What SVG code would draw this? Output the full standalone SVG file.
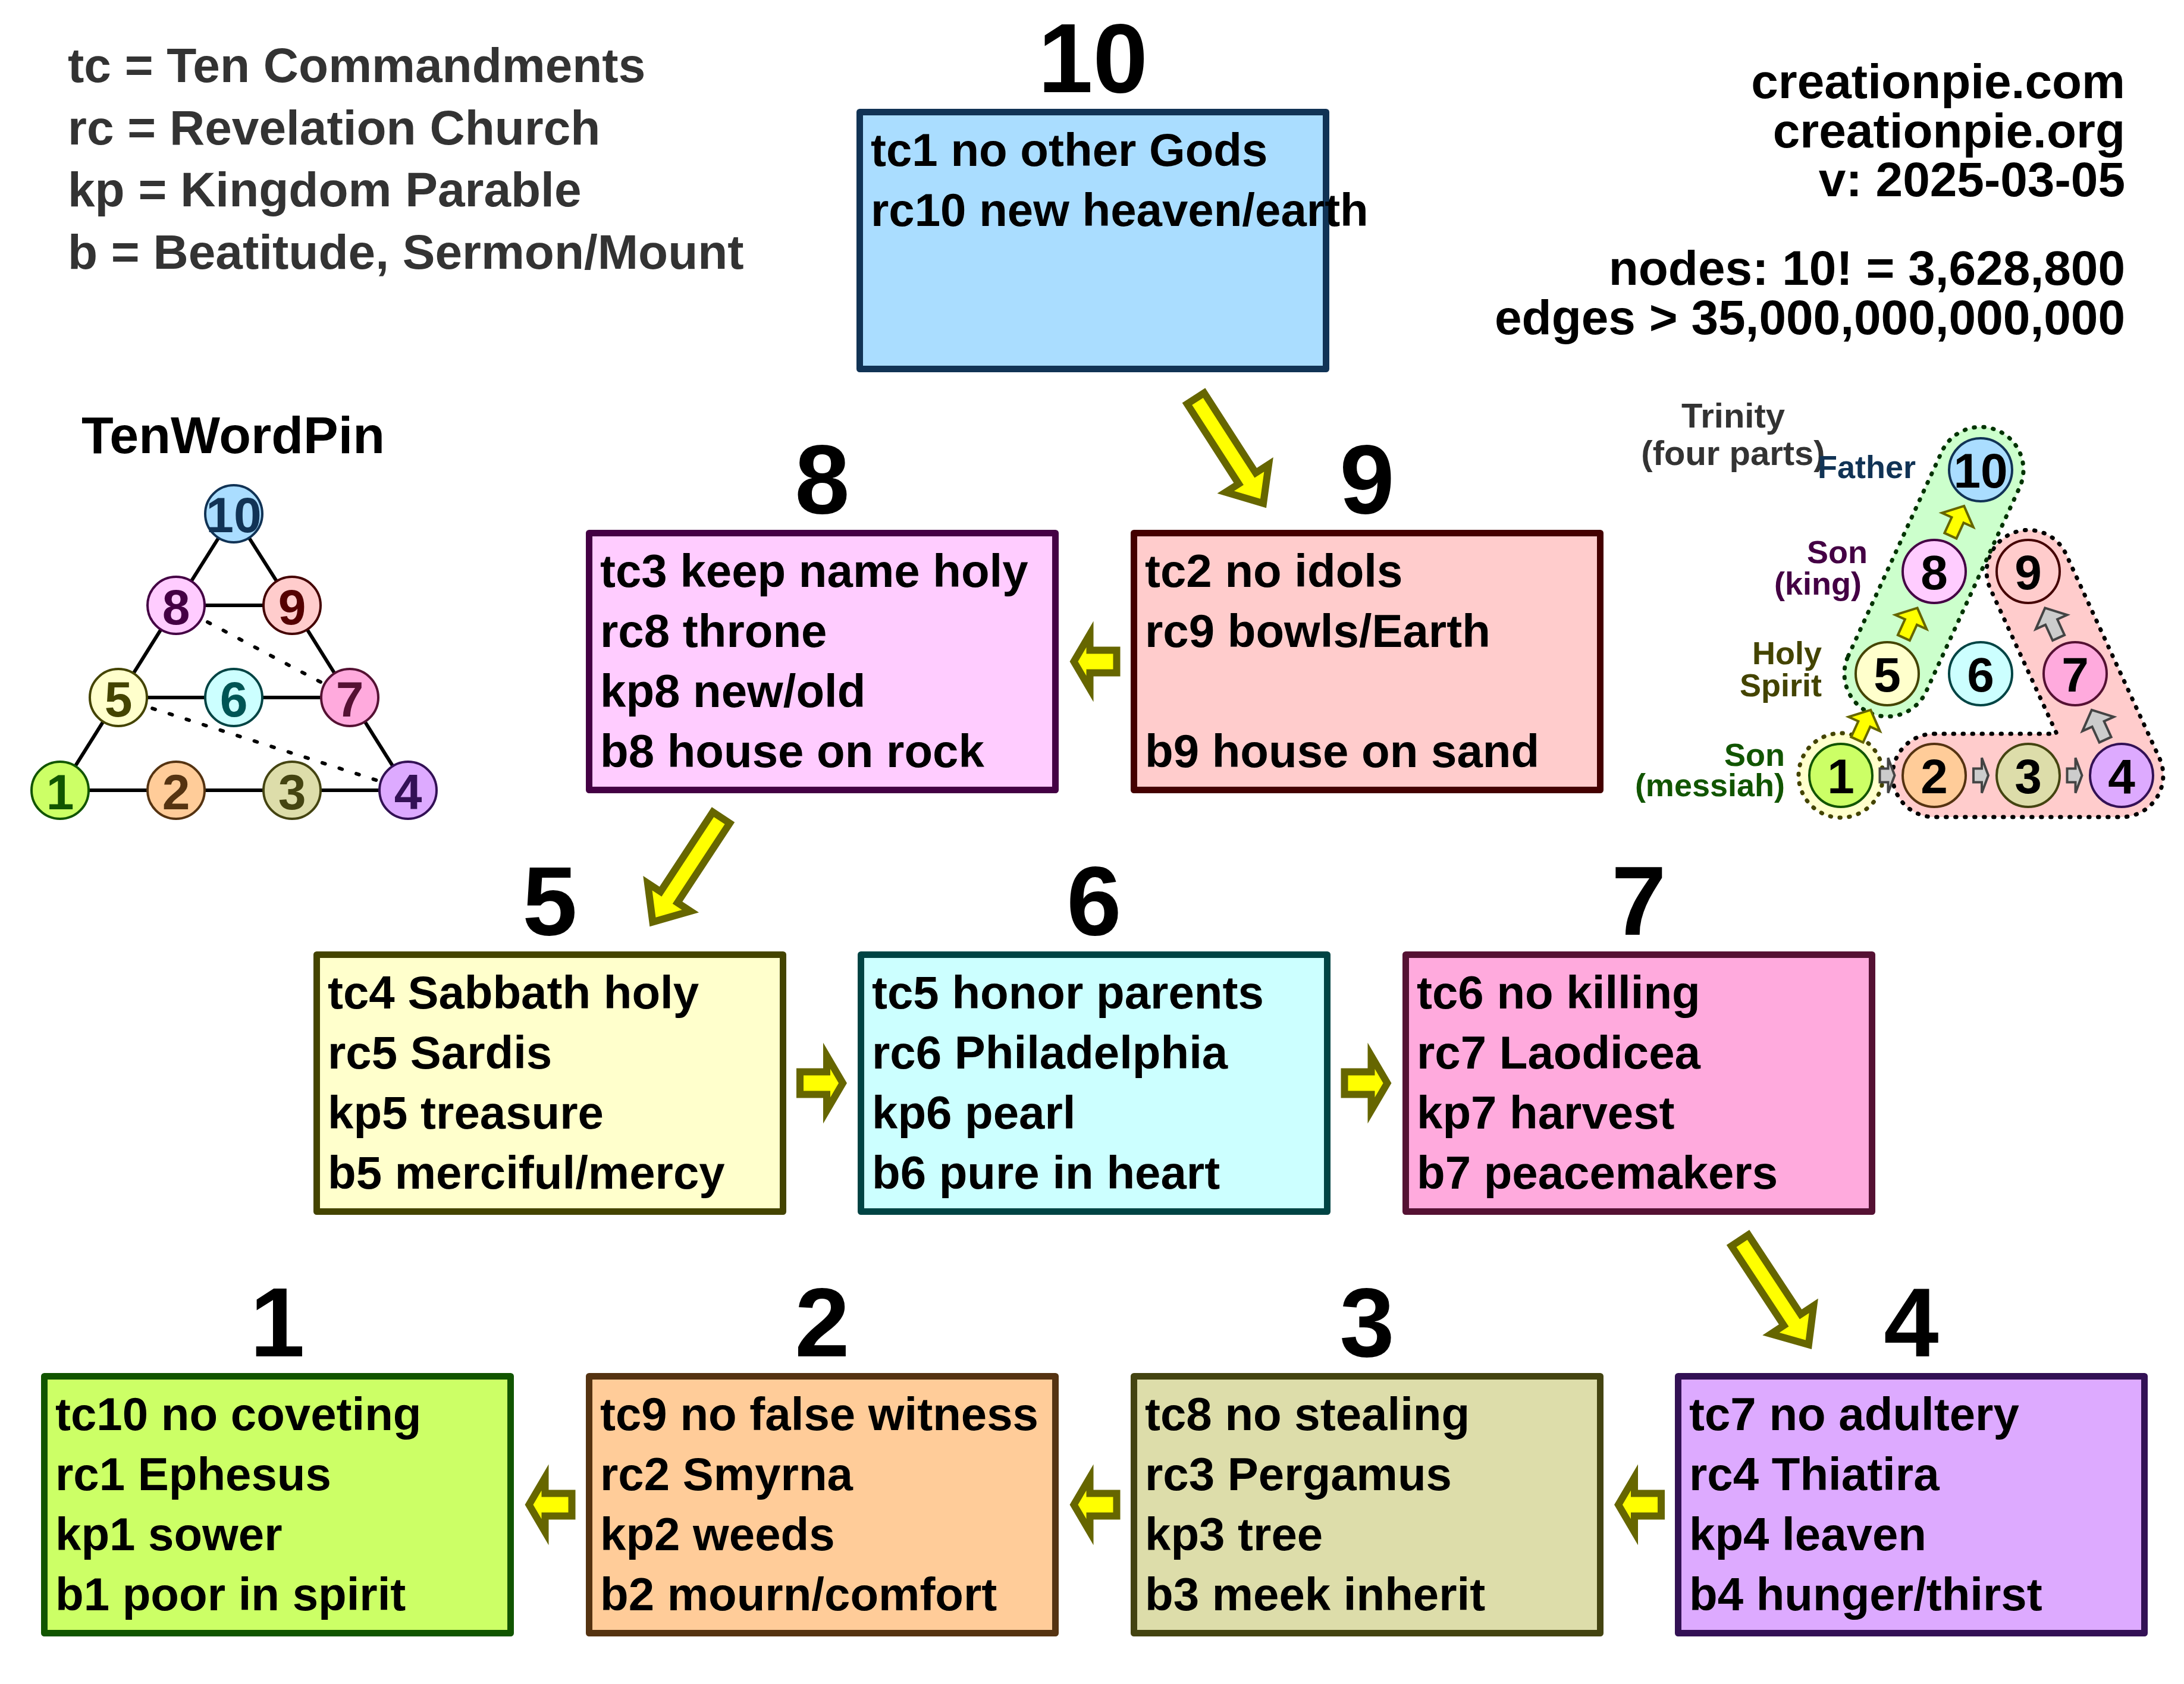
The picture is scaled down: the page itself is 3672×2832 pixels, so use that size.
<svg xmlns="http://www.w3.org/2000/svg" xmlns:xlink="http://www.w3.org/1999/xlink" width="3672" height="2832" viewBox="0 0 3672 2832">
<style>
.t{font-family:"Liberation Sans",Arial,Helvetica,sans-serif;font-weight:bold}
.num{font-size:166px;text-anchor:middle;fill:#000}
.body{font-size:78px;fill:#000}
.leg{font-size:82px;fill:#333333}
.info{font-size:82px;fill:#000;text-anchor:end}
.box{stroke-width:11;stroke-linejoin:round}
.ya{fill:#ffff00;stroke:#666600;stroke-width:12;stroke-linejoin:miter}
.ys{fill:#ffff00;stroke:#666600;stroke-width:4}
.gs{fill:#cccccc;stroke:#444444;stroke-width:4}
.edge{stroke:#000;stroke-width:6;fill:none}
.dash{stroke:#000;stroke-width:6;fill:none;stroke-dasharray:5 25;stroke-linecap:round}
.twp{stroke-width:4}
.twl{font-size:84px;text-anchor:middle}
.tri{stroke-width:4}
.trl{font-size:82px;text-anchor:middle;fill:#000}
.dot{stroke-width:7;stroke-dasharray:1.5 14.5;stroke-linecap:round}
.lab{font-size:54px;text-anchor:end}
</style>
<defs>
<path id="ah" d="M-37,-19 H8 V-46 L35,0 L8,46 V19 H-37 Z"/>
<path id="ad" d="M6,-17 H166 V-43 L216,0 L166,43 V17 H6 Z"/>
<path id="as" d="M-28,-11 H1 V-29 L27,0 L1,29 V11 H-28 Z"/>
<path id="ag" d="M-13,-11.5 H1 V-29.5 L12,0 L1,29.5 V11.5 H-13 Z"/>
</defs>
<rect width="3672" height="2832" fill="#ffffff"/>

<g id="legend">
<text class="t leg" x="114" y="138">tc = Ten Commandments</text>
<text class="t leg" x="114" y="243">rc = Revelation Church</text>
<text class="t leg" x="114" y="347">kp = Kingdom Parable</text>
<text class="t leg" x="114" y="452">b = Beatitude, Sermon/Mount</text>
</g>
<g id="info">
<text class="t info" x="3573" y="165">creationpie.com</text>
<text class="t info" x="3573" y="248">creationpie.org</text>
<text class="t info" x="3573" y="330">v: 2025-03-05</text>
<text class="t info" x="3573" y="479">nodes: 10! = 3,628,800</text>
<text class="t info" x="3573" y="562">edges &gt; 35,000,000,000,000</text>
</g>

<!-- main boxes -->
<g id="node-10">
<text class="t num" x="1837.5" y="155">10</text>
<rect class="box" x="1445.5" y="188.5" width="784" height="432" fill="#aaddff" stroke="#113355"/>
<text class="t body" x="1464" y="279">tc1 no other Gods</text>
<text class="t body" x="1464" y="380">rc10 new heaven/earth</text>
</g>
<g id="node-8">
<text class="t num" x="1382.5" y="863">8</text>
<rect class="box" x="990.5" y="896.5" width="784" height="432" fill="#ffccff" stroke="#440044"/>
<text class="t body" x="1009" y="987">tc3 keep name holy</text>
<text class="t body" x="1009" y="1088">rc8 throne</text>
<text class="t body" x="1009" y="1189">kp8 new/old</text>
<text class="t body" x="1009" y="1290">b8 house on rock</text>
</g>
<g id="node-9">
<text class="t num" x="2298.5" y="863">9</text>
<rect class="box" x="1906.5" y="896.5" width="784" height="432" fill="#ffcccc" stroke="#440000"/>
<text class="t body" x="1925" y="987">tc2 no idols</text>
<text class="t body" x="1925" y="1088">rc9 bowls/Earth</text>
<text class="t body" x="1925" y="1290">b9 house on sand</text>
</g>
<g id="node-5">
<text class="t num" x="924.5" y="1572">5</text>
<rect class="box" x="532.5" y="1605.5" width="784" height="432" fill="#ffffcc" stroke="#444400"/>
<text class="t body" x="551" y="1696">tc4 Sabbath holy</text>
<text class="t body" x="551" y="1797">rc5 Sardis</text>
<text class="t body" x="551" y="1898">kp5 treasure</text>
<text class="t body" x="551" y="1999">b5 merciful/mercy</text>
</g>
<g id="node-6">
<text class="t num" x="1839.5" y="1572">6</text>
<rect class="box" x="1447.5" y="1605.5" width="784" height="432" fill="#ccffff" stroke="#004444"/>
<text class="t body" x="1466" y="1696">tc5 honor parents</text>
<text class="t body" x="1466" y="1797">rc6 Philadelphia</text>
<text class="t body" x="1466" y="1898">kp6 pearl</text>
<text class="t body" x="1466" y="1999">b6 pure in heart</text>
</g>
<g id="node-7">
<text class="t num" x="2755.5" y="1572">7</text>
<rect class="box" x="2363.5" y="1605.5" width="784" height="432" fill="#ffaadd" stroke="#551133"/>
<text class="t body" x="2382" y="1696">tc6 no killing</text>
<text class="t body" x="2382" y="1797">rc7 Laodicea</text>
<text class="t body" x="2382" y="1898">kp7 harvest</text>
<text class="t body" x="2382" y="1999">b7 peacemakers</text>
</g>
<g id="node-1">
<text class="t num" x="466.5" y="2281">1</text>
<rect class="box" x="74.5" y="2314.5" width="784" height="432" fill="#ccff66" stroke="#115500"/>
<text class="t body" x="93" y="2405">tc10 no coveting</text>
<text class="t body" x="93" y="2506">rc1 Ephesus</text>
<text class="t body" x="93" y="2607">kp1 sower</text>
<text class="t body" x="93" y="2708">b1 poor in spirit</text>
</g>
<g id="node-2">
<text class="t num" x="1382.5" y="2281">2</text>
<rect class="box" x="990.5" y="2314.5" width="784" height="432" fill="#ffcc99" stroke="#553311"/>
<text class="t body" x="1009" y="2405">tc9 no false witness</text>
<text class="t body" x="1009" y="2506">rc2 Smyrna</text>
<text class="t body" x="1009" y="2607">kp2 weeds</text>
<text class="t body" x="1009" y="2708">b2 mourn/comfort</text>
</g>
<g id="node-3">
<text class="t num" x="2298.5" y="2281">3</text>
<rect class="box" x="1906.5" y="2314.5" width="784" height="432" fill="#ddddaa" stroke="#444411"/>
<text class="t body" x="1925" y="2405">tc8 no stealing</text>
<text class="t body" x="1925" y="2506">rc3 Pergamus</text>
<text class="t body" x="1925" y="2607">kp3 tree</text>
<text class="t body" x="1925" y="2708">b3 meek inherit</text>
</g>
<g id="node-4">
<text class="t num" x="3213.5" y="2281">4</text>
<rect class="box" x="2821.5" y="2314.5" width="784" height="432" fill="#ddaaff" stroke="#331155"/>
<text class="t body" x="2840" y="2405">tc7 no adultery</text>
<text class="t body" x="2840" y="2506">rc4 Thiatira</text>
<text class="t body" x="2840" y="2607">kp4 leaven</text>
<text class="t body" x="2840" y="2708">b4 hunger/thirst</text>
</g>

<g id="connectors">
<use xlink:href="#ad" class="ya" transform="translate(2007,665) rotate(57.2)"/>
<use xlink:href="#ah" class="ya" transform="translate(1840.5,1112.5) rotate(180)"/>
<use xlink:href="#ad" class="ya" transform="translate(1216,1370) rotate(123.3)"/>
<use xlink:href="#ah" class="ya" transform="translate(1382,1821.5)"/>
<use xlink:href="#ah" class="ya" transform="translate(2297.5,1821.5)"/>
<use xlink:href="#ad" class="ya" transform="translate(2922,2081) rotate(56.6)"/>
<use xlink:href="#ah" class="ya" transform="translate(2756,2530.5) rotate(180)"/>
<use xlink:href="#ah" class="ya" transform="translate(1840.5,2530.5) rotate(180)"/>
<use xlink:href="#ah" class="ya" transform="translate(924.5,2530.5) rotate(180)"/>
</g>

<!-- TenWordPin -->
<g id="tenwordpin">
<text class="t" x="392" y="762" font-size="88" text-anchor="middle" fill="#000">TenWordPin</text>
<g id="twp-edges">
<line class="edge" x1="393" y1="864" x2="296" y2="1018"/>
<line class="edge" x1="393" y1="864" x2="491" y2="1018"/>
<line class="edge" x1="296" y1="1018" x2="491" y2="1018"/>
<line class="edge" x1="296" y1="1018" x2="199" y2="1173"/>
<line class="edge" x1="491" y1="1018" x2="588" y2="1173"/>
<line class="edge" x1="199" y1="1173" x2="588" y2="1173"/>
<line class="edge" x1="199" y1="1173" x2="101" y2="1329"/>
<line class="edge" x1="588" y1="1173" x2="686" y2="1329"/>
<line class="edge" x1="101" y1="1329" x2="686" y2="1329"/>
<line class="dash" x1="296" y1="1018" x2="588" y2="1173"/>
<line class="dash" x1="199" y1="1173" x2="686" y2="1329"/>
</g>
<g id="twp-10"><circle class="twp" cx="393" cy="864" r="48" fill="#aaddff" stroke="#113355"/><text class="t twl" x="393" y="895" fill="#113355">10</text></g>
<g id="twp-8"><circle class="twp" cx="296" cy="1018" r="48" fill="#ffccff" stroke="#440044"/><text class="t twl" x="296" y="1050" fill="#440044">8</text></g>
<g id="twp-9"><circle class="twp" cx="491" cy="1018" r="48" fill="#ffcccc" stroke="#440000"/><text class="t twl" x="491" y="1050" fill="#550000">9</text></g>
<g id="twp-5"><circle class="twp" cx="199" cy="1173" r="48" fill="#ffffcc" stroke="#444400"/><text class="t twl" x="199" y="1205" fill="#444400">5</text></g>
<g id="twp-6"><circle class="twp" cx="393" cy="1173" r="48" fill="#ccffff" stroke="#004444"/><text class="t twl" x="393" y="1205" fill="#005555">6</text></g>
<g id="twp-7"><circle class="twp" cx="588" cy="1173" r="48" fill="#ffaadd" stroke="#551133"/><text class="t twl" x="588" y="1205" fill="#551133">7</text></g>
<g id="twp-1"><circle class="twp" cx="101" cy="1329" r="48" fill="#ccff66" stroke="#115500"/><text class="t twl" x="101" y="1361" fill="#115500">1</text></g>
<g id="twp-2"><circle class="twp" cx="296" cy="1329" r="48" fill="#ffcc99" stroke="#553311"/><text class="t twl" x="296" y="1361" fill="#553311">2</text></g>
<g id="twp-3"><circle class="twp" cx="491" cy="1329" r="48" fill="#ddddaa" stroke="#444411"/><text class="t twl" x="491" y="1361" fill="#444411">3</text></g>
<g id="twp-4"><circle class="twp" cx="686" cy="1329" r="48" fill="#ddaaff" stroke="#331155"/><text class="t twl" x="686" y="1361" fill="#331155">4</text></g>
</g>

<!-- Trinity -->
<g id="trinity">
<text class="t" x="2914" y="719" font-size="58" text-anchor="middle" fill="#333333">Trinity</text>
<text class="t" x="2914" y="782" font-size="58" text-anchor="middle" fill="#333333">(four parts)</text>
<g id="tri-groups">
<path class="dot" d="M3252,1234 L3458,1234 L3346.35,990.13 A70,70 0 0 1 3473.65,931.87 L3630.65,1274.87 A70,70 0 0 1 3567,1374 L3252,1374 A70,70 0 0 1 3252,1234 Z" fill="#ffcccc" stroke="#000"/>
<rect class="dot" x="-260.6" y="-72" width="521.2" height="144" rx="72" ry="72" transform="translate(3251.5,961.5) rotate(-65.4)" fill="#ccffcc" stroke="#003300"/>
<circle class="dot" cx="3095" cy="1304" r="71" fill="#ffffcc" stroke="#444400"/>
</g>
<text class="t lab" x="3221" y="804" fill="#113355">Father</text>
<text class="t lab" x="3140" y="947" fill="#440044">Son</text>
<text class="t lab" x="3130" y="1000" fill="#440044">(king)</text>
<text class="t lab" x="3063" y="1117" fill="#444400">Holy</text>
<text class="t lab" x="3063" y="1171" fill="#444400">Spirit</text>
<text class="t lab" x="3001" y="1288" fill="#115500">Son</text>
<text class="t lab" x="3001" y="1339" fill="#115500">(messiah)</text>
<g id="tri-connectors">
<use xlink:href="#as" class="ys" transform="translate(3134,1218.5) rotate(-65.5)"/>
<use xlink:href="#as" class="ys" transform="translate(3212.5,1047) rotate(-65.5)"/>
<use xlink:href="#as" class="ys" transform="translate(3291,875.5) rotate(-65.5)"/>
<use xlink:href="#ag" class="gs" transform="translate(3173.5,1304)"/>
<use xlink:href="#ag" class="gs" transform="translate(3331,1304)"/>
<use xlink:href="#ag" class="gs" transform="translate(3488.5,1304)"/>
<use xlink:href="#as" class="gs" transform="translate(3528,1218.5) rotate(-114.5)"/>
<use xlink:href="#as" class="gs" transform="translate(3449.5,1047) rotate(-114.5)"/>
</g>
<g id="tri-10"><circle class="tri" cx="3330" cy="790" r="53" fill="#aaddff" stroke="#113355"/><text class="t trl" x="3330" y="820">10</text></g>
<g id="tri-8"><circle class="tri" cx="3252" cy="961" r="53" fill="#ffccff" stroke="#440044"/><text class="t trl" x="3252" y="991">8</text></g>
<g id="tri-9"><circle class="tri" cx="3410" cy="961" r="53" fill="#ffcccc" stroke="#440000"/><text class="t trl" x="3410" y="991">9</text></g>
<g id="tri-5"><circle class="tri" cx="3173" cy="1133" r="53" fill="#ffffcc" stroke="#444400"/><text class="t trl" x="3173" y="1163">5</text></g>
<g id="tri-6"><circle class="tri" cx="3330" cy="1133" r="53" fill="#ccffff" stroke="#004444"/><text class="t trl" x="3330" y="1163">6</text></g>
<g id="tri-7"><circle class="tri" cx="3489" cy="1133" r="53" fill="#ffaadd" stroke="#551133"/><text class="t trl" x="3489" y="1163">7</text></g>
<g id="tri-1"><circle class="tri" cx="3095" cy="1304" r="53" fill="#ccff66" stroke="#115500"/><text class="t trl" x="3095" y="1334">1</text></g>
<g id="tri-2"><circle class="tri" cx="3252" cy="1304" r="53" fill="#ffcc99" stroke="#553311"/><text class="t trl" x="3252" y="1334">2</text></g>
<g id="tri-3"><circle class="tri" cx="3410" cy="1304" r="53" fill="#ddddaa" stroke="#444411"/><text class="t trl" x="3410" y="1334">3</text></g>
<g id="tri-4"><circle class="tri" cx="3567" cy="1304" r="53" fill="#ddaaff" stroke="#331155"/><text class="t trl" x="3567" y="1334">4</text></g>
</g>
</svg>
